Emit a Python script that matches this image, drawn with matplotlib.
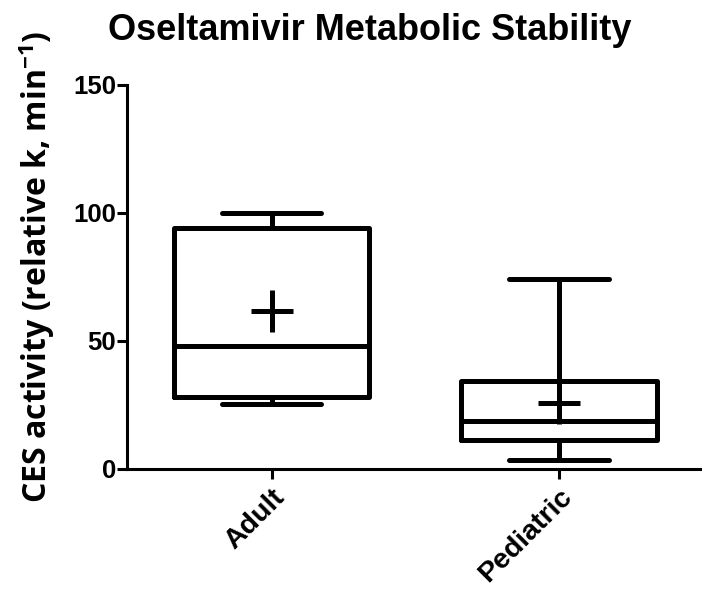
import matplotlib

matplotlib.use("Agg")
import matplotlib.pyplot as plt

# Box summary per group (min/max whiskers, quartiles, median, mean)
groups = ["Adult", "Pediatric"]
whislo = [25.2, 3.4]
q1 = [27.9, 11.1]
med = [47.9, 18.8]
q3 = [93.9, 34.4]
whishi = [100.0, 74.0]
means = [61.7, 25.8]

plt.rcParams["mathtext.fontset"] = "custom"
plt.rcParams["mathtext.rm"] = "Open Sans"
plt.rcParams["mathtext.bf"] = "Open Sans:bold"

LW = 3.6
fig = plt.figure(figsize=(7.02, 5.99), dpi=100)
ax = fig.add_axes([0.181, 0.2175, 0.816, 0.641])

stats = [
    {"label": g, "whislo": lo, "q1": a, "med": m, "q3": b, "whishi": hi, "mean": mu}
    for g, lo, a, m, b, hi, mu in zip(groups, whislo, q1, med, q3, whishi, means)
]
line = {"color": "black", "linewidth": LW, "solid_capstyle": "round",
        "solid_joinstyle": "round"}
ax.bxp(stats, positions=range(len(groups)), widths=0.68, capwidths=0.345,
       showmeans=True, showfliers=False,
       boxprops=line, whiskerprops=line, capprops=line, medianprops=line,
       meanprops={"marker": "+", "markersize": 30, "markeredgewidth": LW,
                  "markeredgecolor": "black"})
# whisker line carried through the pediatric box down to the median
ax.vlines(1, med[1], q3[1], color="black", linewidth=LW * 0.8)

ax.set_xlim(-0.503, 1.49)
ax.set_ylim(0, 150)
ax.set_yticks([0, 50, 100, 150])
ax.set_xticks(range(len(groups)))
ax.set_xticklabels(groups, rotation=45, ha="right", rotation_mode="anchor",
                   family="Liberation Sans", fontweight="bold", fontsize=20.5)
for t in ax.get_yticklabels():
    t.set_family("Liberation Sans")
    t.set_fontweight("bold")
    t.set_fontsize(18.5)
ax.tick_params(axis="both", width=2.2, length=7, direction="out", pad=1)
ax.tick_params(axis="x", pad=4)
for s in ("top", "right"):
    ax.spines[s].set_visible(False)
for s in ("left", "bottom"):
    ax.spines[s].set_linewidth(2.2)

ax.set_ylabel("CES activity (relative k, min$^{\\mathbf{-1}}$)", family="Open Sans",
              fontweight="bold", fontsize=23, va="center")
ax.yaxis.set_label_coords(-0.158, 0.527)
fig.text(0.527, 0.978, "Oseltamivir Metabolic Stability", family="Liberation Sans",
         fontweight="bold", fontsize=26, ha="center", va="top")

fig.savefig("out.png", dpi=100)
